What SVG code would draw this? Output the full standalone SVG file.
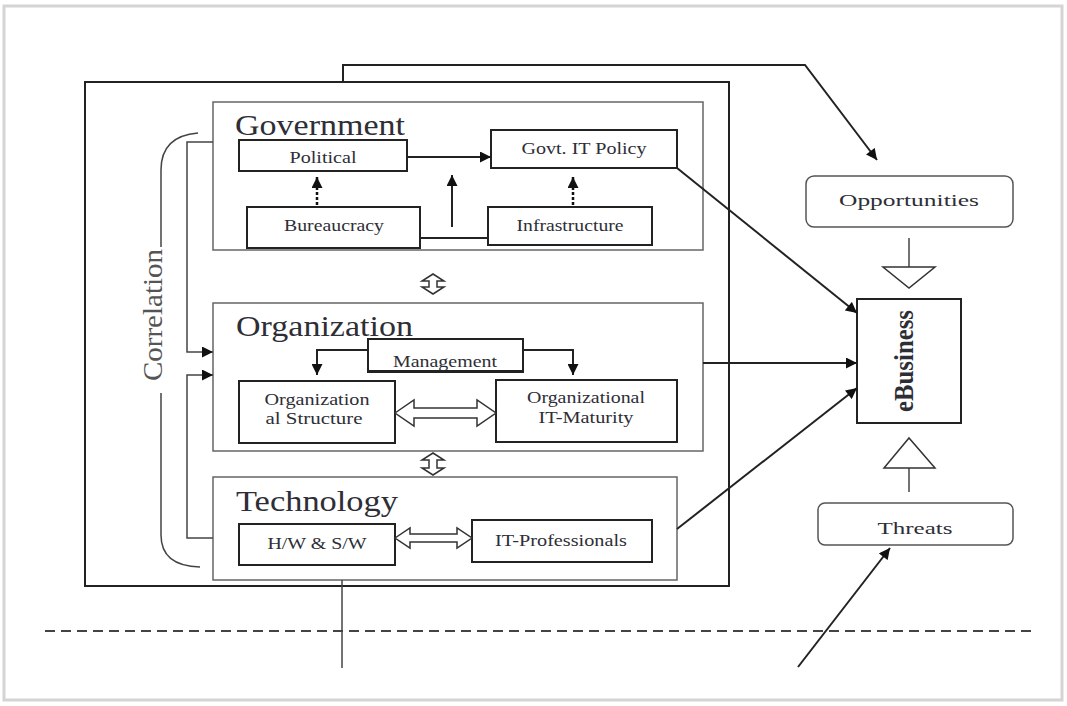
<svg xmlns="http://www.w3.org/2000/svg" width="1067" height="706" viewBox="0 0 1067 706">
<style>
.lbl{font-family:"Liberation Serif","Times New Roman",serif;font-size:17.5px;fill:#2e2e36;text-anchor:middle}
.big{font-family:"Liberation Serif","Times New Roman",serif;font-size:29px;fill:#2e2e36}
.box{fill:#fff;stroke:#222;stroke-width:2}
.grp{fill:#fff;stroke:#666;stroke-width:1.5}
.rnd{fill:#fff;stroke:#555;stroke-width:1.5}
.ln{fill:none;stroke:#222;stroke-width:2}
.thin{fill:none;stroke:#444;stroke-width:1.5}
.hol{fill:#fff;stroke:#333;stroke-width:1.5}
</style>
<defs>
<marker id="ah" viewBox="0 0 10 10" refX="10" refY="5" markerWidth="12" markerHeight="11" markerUnits="userSpaceOnUse" orient="auto">
<path d="M0,0 L10,5 L0,10 z" fill="#111"/>
</marker>
</defs>
<rect x="0" y="0" width="1067" height="706" fill="#fff"/>
<rect x="4" y="6" width="1058" height="694" fill="none" stroke="#d4d4d4" stroke-width="3"/>

<g id="outer">
<rect x="85" y="82" width="644" height="504" class="ln" fill="none"/>
</g>

<g id="government">
<rect x="213" y="102" width="490" height="148" class="grp"/>
<text class="big" x="235" y="135" textLength="170" lengthAdjust="spacingAndGlyphs">Government</text>
</g>
<g id="political"><rect x="239" y="140" width="168" height="31" class="box"/><text class="lbl" x="323" y="163" textLength="67" lengthAdjust="spacingAndGlyphs">Political</text></g>
<g id="bureaucracy"><rect x="247" y="207" width="173" height="41" class="box"/><text class="lbl" x="334" y="231" textLength="100" lengthAdjust="spacingAndGlyphs">Bureaucracy</text></g>
<g id="govt-it-policy"><rect x="491" y="130" width="186" height="38" class="box"/><text class="lbl" x="584" y="154" textLength="125" lengthAdjust="spacingAndGlyphs">Govt. IT Policy</text></g>
<g id="infrastructure"><rect x="488" y="207" width="164" height="38" class="box"/><text class="lbl" x="570" y="231" textLength="107" lengthAdjust="spacingAndGlyphs">Infrastructure</text></g>

<g id="organization">
<rect x="213" y="303" width="490" height="148" class="grp"/>
<text class="big" x="236" y="336" textLength="177" lengthAdjust="spacingAndGlyphs">Organization</text>
</g>
<g id="management"><rect x="368" y="339" width="155" height="33" class="box"/><text class="lbl" x="445" y="367" textLength="104" lengthAdjust="spacingAndGlyphs">Management</text><rect x="369" y="370" width="153" height="1.5" fill="#222"/></g>
<g id="org-structure"><rect x="239" y="381" width="156" height="62" class="box"/><text class="lbl" x="317" y="405" textLength="105" lengthAdjust="spacingAndGlyphs">Organization</text><text class="lbl" x="314" y="424" textLength="97" lengthAdjust="spacingAndGlyphs">al Structure</text></g>
<g id="org-it-maturity"><rect x="496" y="380" width="181" height="62" class="box"/><text class="lbl" x="586" y="403" textLength="118" lengthAdjust="spacingAndGlyphs">Organizational</text><text class="lbl" x="586" y="423" textLength="95" lengthAdjust="spacingAndGlyphs">IT-Maturity</text></g>

<g id="technology">
<rect x="213" y="477" width="464" height="103" class="grp"/>
<text class="big" x="236" y="511" textLength="162" lengthAdjust="spacingAndGlyphs">Technology</text>
</g>
<g id="hw-sw"><rect x="239" y="524" width="156" height="41" class="box"/><text class="lbl" x="317" y="549" textLength="99" lengthAdjust="spacingAndGlyphs">H/W &amp; S/W</text></g>
<g id="it-professionals"><rect x="472" y="520" width="180" height="42" class="box"/><text class="lbl" x="561" y="546" textLength="132" lengthAdjust="spacingAndGlyphs">IT-Professionals</text></g>

<g id="opportunities"><rect x="806" y="176" width="207" height="51" rx="8" class="rnd"/><text class="lbl" x="909" y="206" font-size="19" textLength="140" lengthAdjust="spacingAndGlyphs">Opportunities</text></g>
<g id="threats"><rect x="818" y="503" width="195" height="42" rx="7" class="rnd"/><text class="lbl" x="915" y="534" font-size="19" textLength="75" lengthAdjust="spacingAndGlyphs">Threats</text></g>
<g id="ebusiness"><rect x="857" y="299" width="104" height="124" class="box"/><text x="0" y="0" transform="translate(913,361) rotate(-90)" font-family="'Liberation Serif','Times New Roman',serif" font-size="27" font-weight="bold" fill="#2e2e36" text-anchor="middle" textLength="102" lengthAdjust="spacingAndGlyphs">eBusiness</text></g>

<g id="correlation">
<path class="thin" d="M198,133 Q161,136 161,170 V247"/>
<path class="thin" d="M161,393 V535 Q161,566 200,567"/>
<text x="0" y="0" transform="translate(162,315) rotate(-90)" font-family="'Liberation Serif','Times New Roman',serif" font-size="28" fill="#555" text-anchor="middle" textLength="132" lengthAdjust="spacingAndGlyphs">Correlation</text>
</g>

<g id="connectors">
<path class="ln" d="M343,82 V65 H805 L877,160" marker-end="url(#ah)"/>
<line class="ln" x1="407" y1="157" x2="491" y2="157" marker-end="url(#ah)"/>
<line class="ln" x1="452" y1="227" x2="452" y2="175" marker-end="url(#ah)"/>
<line class="ln" x1="420" y1="238" x2="488" y2="238"/>
<line x1="317" y1="205" x2="317" y2="177" stroke="#111" stroke-width="2.5" stroke-dasharray="3,2" marker-end="url(#ah)"/>
<line x1="573" y1="205" x2="573" y2="177" stroke="#111" stroke-width="2.5" stroke-dasharray="3,2" marker-end="url(#ah)"/>
<line class="ln" x1="677" y1="168" x2="857" y2="313" marker-end="url(#ah)"/>
<line class="ln" x1="703" y1="363" x2="857" y2="363" marker-end="url(#ah)"/>
<line class="ln" x1="677" y1="529" x2="857" y2="388" marker-end="url(#ah)"/>
<path class="ln" d="M368,350 H317 V375" marker-end="url(#ah)"/>
<path class="ln" d="M523,350 H573 V375" marker-end="url(#ah)"/>
<path class="thin" d="M213,142 H187 V352 H213" marker-end="url(#ah)"/>
<path class="thin" d="M213,538 H187 V375 H213" marker-end="url(#ah)"/>
<path class="hol" d="M395,413 L414,400 L414,408 L477,408 L477,400 L496,413 L477,426 L477,418 L414,418 L414,426 Z"/>
<path class="hol" d="M395,538 L410,528 L410,534 L457,534 L457,528 L472,538 L457,548 L457,542 L410,542 L410,548 Z"/>
<path class="hol" d="M433,274 L444,281 L437,281 L437,287 L444,287 L433,294 L422,287 L429,287 L429,281 L422,281 Z"/>
<path class="hol" d="M433,453 L444,460 L437,460 L437,468 L444,468 L433,475 L422,468 L429,468 L429,460 L422,460 Z"/>
<line class="thin" x1="909" y1="238" x2="909" y2="267"/>
<path class="hol" d="M883,267 H935 L909,288 Z"/>
<line class="thin" x1="909" y1="492" x2="909" y2="468"/>
<path class="hol" d="M884,468 H935 L909,438 Z"/>
<line class="thin" x1="342" y1="580" x2="342" y2="668"/>
<line x1="45" y1="631" x2="1035" y2="631" stroke="#444" stroke-width="2" stroke-dasharray="10,6"/>
<line class="ln" x1="798" y1="667" x2="890" y2="548" marker-end="url(#ah)"/>
</g>
</svg>
